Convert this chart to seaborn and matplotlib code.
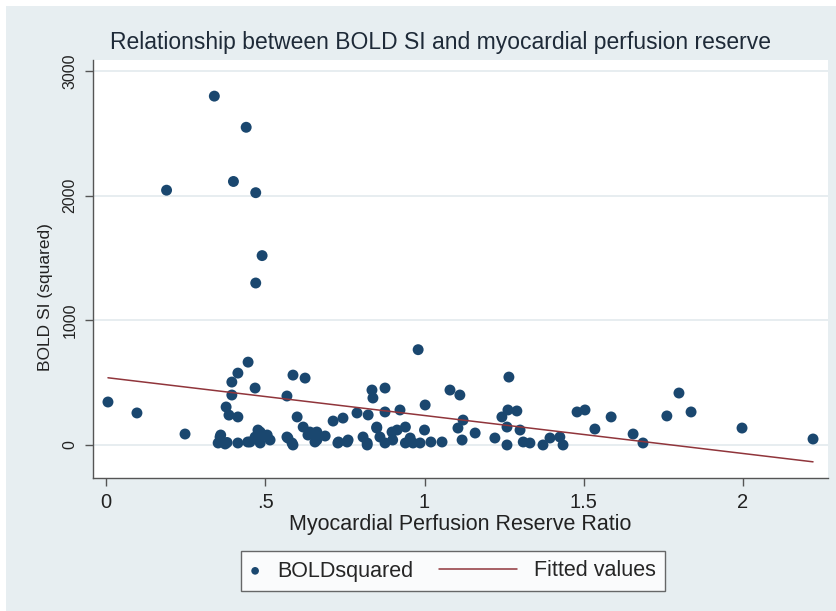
import numpy as np
import pandas as pd
import matplotlib
matplotlib.use("Agg")
import matplotlib.pyplot as plt
from matplotlib.legend_handler import HandlerPathCollection
from matplotlib.collections import PathCollection
from matplotlib.patches import Rectangle
import seaborn as sns

# Myocardial Perfusion Reserve Ratio (x) and BOLD SI squared (y)
mpr = [0.34, 0.44, 0.19, 0.40, 0.47, 0.49, 0.47, 0.98,
       0.446, 0.414, 0.395, 0.468, 0.395, 0.006, 0.097, 0.248, 0.377, 0.386,
       0.414, 0.358, 0.352, 0.374, 0.414, 0.452, 0.477, 0.484, 0.515,
       0.587, 0.625, 0.568, 0.600, 0.619, 0.634, 0.662, 0.688, 0.571, 0.587,
       0.656, 0.713, 0.744, 0.728, 0.757,
       0.36, 0.38, 0.445, 0.468, 0.484, 0.506, 0.568, 0.584, 0.64, 0.656, 0.662, 0.493,
       0.835, 0.876, 0.838, 0.788, 0.823, 0.876, 0.923, 1.002, 1.08, 1.111,
       1.265, 1.121, 1.105, 1.118, 1.159, 1.243, 1.262, 1.29, 1.259, 1.30,
       1.221, 1.259, 1.31, 1.331, 1.372, 1.394, 1.425, 1.435, 1.479, 1.504,
       0.807, 0.82, 0.85, 0.86, 0.876, 0.898, 0.914, 0.94, 0.955, 0.964,
       0.986, 1.0, 1.055, 0.73, 0.76, 0.82, 0.85, 0.90, 0.94, 1.02,
       1.535, 1.586, 1.655, 1.686, 1.761, 1.799, 1.837, 1.997, 2.22]
bold_sq = [2800, 2550, 2045, 2115, 2025, 1520, 1300, 765,
           665, 577, 505, 457, 401, 345, 257, 88, 305, 240,
           225, 64, 16, 8, 16, 24, 120, 16, 40,
           561, 537, 393, 225, 144, 80, 104, 72, 56, 0,
           24, 192, 216, 16, 24,
           80, 20, 24, 64, 104, 80, 64, 16, 104, 96, 40, 80,
           441, 457, 377, 257, 241, 265, 281, 321, 441, 401,
           545, 200, 136, 40, 96, 225, 281, 273, 144, 120,
           56, 0, 24, 16, 0, 56, 64, 0, 265, 281,
           64, 0, 144, 64, 16, 104, 120, 144, 56, 16,
           16, 120, 24, 24, 40, 16, 136, 40, 16, 24,
           128, 225, 88, 16, 233, 417, 265, 136, 48]

x_ticks = [0, 0.5, 1, 1.5, 2]
x_tick_labels = ["0", ".5", "1", "1.5", "2"]
y_ticks = [0, 1000, 2000, 3000]
y_tick_labels = ["0", "1000", "2000", "3000"]

df = pd.DataFrame({"mpr": mpr, "bold": bold_sq})

# linear fit (Stata lfit)
slope, intercept = np.polyfit(df["mpr"], df["bold"], 1)
fx = np.array([df["mpr"].min(), df["mpr"].max()])
fit_df = pd.DataFrame({"mpr": fx, "fit": intercept + slope * fx})

sns.set_theme(style="white")
plt.rcParams["font.family"] = ["Liberation Sans", "DejaVu Sans"]

bg = "#e7eef1"
ink = "#222222"
W, H = 837, 611
fig = plt.figure(figsize=(8.37, 6.11), dpi=100, facecolor="white")
fig.patches.append(Rectangle((6 / W, 0), 1 - 6 / W, 1 - 6 / H, transform=fig.transFigure,
                             facecolor=bg, edgecolor="none", zorder=-10))
ax = fig.add_axes([93 / W, 1 - 478 / H, (828 - 93) / W, (478 - 60) / H])
ax.set_facecolor("white")

for yt in y_ticks:
    ax.axhline(yt, color="#e3eaee", lw=1.2, zorder=0)

sns.scatterplot(data=df, x="mpr", y="bold", ax=ax, color="#1a476f", s=62,
                edgecolor="none", label="BOLDsquared", zorder=3)
sns.lineplot(data=fit_df, x="mpr", y="fit", ax=ax, color="#90353b", lw=1.1,
             label="Fitted values", zorder=4)

ax.set_xlim(-0.041, 2.267)
ax.set_ylim(-265, 3090)
ax.set_xticks(x_ticks)
ax.set_xticklabels(x_tick_labels)
ax.set_yticks(y_ticks)
ax.set_yticklabels(y_tick_labels, rotation=90, va="center")

for s in ["top", "right"]:
    ax.spines[s].set_visible(False)
for s in ["left", "bottom"]:
    ax.spines[s].set_color("#555555")
    ax.spines[s].set_linewidth(1.0)
ax.tick_params(axis="both", which="both", direction="out", length=6, width=1,
               color="#555555", labelcolor=ink, bottom=True, left=True, pad=4)
ax.tick_params(axis="x", labelsize=14.5, pad=5)
ax.tick_params(axis="y", labelsize=11.5, pad=5)

ax.set_xlabel("Myocardial Perfusion Reserve Ratio", fontsize=15.5, color=ink, labelpad=1)
ax.set_ylabel("BOLD SI (squared)", fontsize=12.5, color=ink)
ax.yaxis.set_label_coords(-0.055, (478 - 297) / (478 - 60))
fig.text(441 / W, 1 - 42 / H,
         "Relationship between BOLD SI and myocardial perfusion reserve",
         fontsize=16.5, color="#1e2a38", ha="center", va="center")


class NarrowScatterHandler(HandlerPathCollection):
    def legend_artist(self, legend, orig_handle, fontsize, handlebox):
        handlebox.width = 0.45 * fontsize
        return super().legend_artist(legend, orig_handle, fontsize, handlebox)


handles, labels = ax.get_legend_handles_labels()
ax.legend(handles, labels, loc="center", bbox_to_anchor=(453 / W, 1 - 571 / H),
          bbox_transform=fig.transFigure, ncol=2, frameon=True, fancybox=False,
          edgecolor="#444444", facecolor="white", fontsize=15.5, markerscale=0.7,
          handlelength=3.6, handletextpad=0.8, columnspacing=1.2, borderpad=0.42,
          borderaxespad=0,
          handler_map={PathCollection: NarrowScatterHandler(numpoints=1)})

fig.savefig("out.png", dpi=100, facecolor="white")
